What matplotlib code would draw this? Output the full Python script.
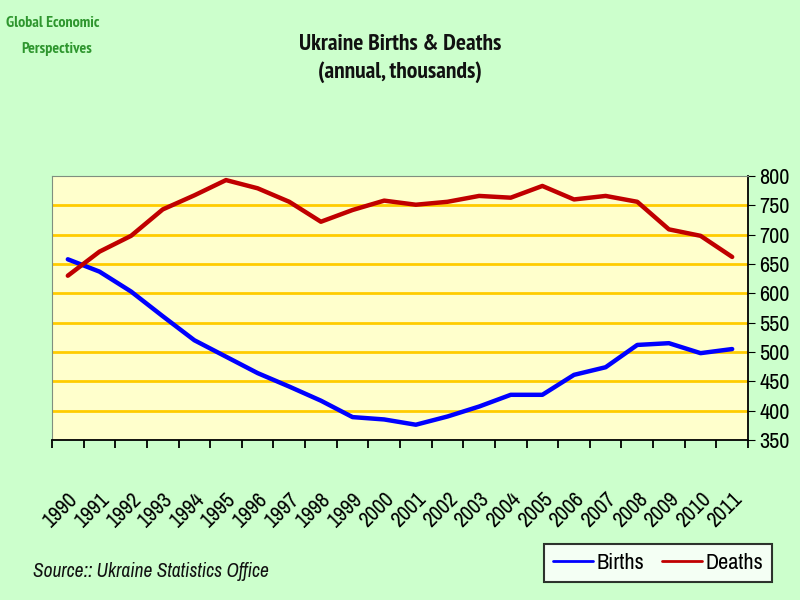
import numpy as np
import matplotlib.pyplot as plt

# Data (thousands per year)
years = [str(y) for y in range(1990, 2012)]
births = [658, 637, 603, 561, 520, 492, 464, 441, 417, 389, 385,
          376, 390, 407, 427, 427, 461, 474, 512, 515, 498, 505]
deaths = [630, 671, 698, 743, 767, 793, 779, 756, 722, 742, 758,
          751, 756, 766, 763, 783, 760, 766, 756, 709, 698, 662]
yticks = list(range(350, 801, 50))

plt.rcParams['font.family'] = ['Archivo Narrow', 'Liberation Sans', 'DejaVu Sans']
bold_narrow = ['PT Sans Narrow', 'Archivo Narrow', 'DejaVu Sans']

fig = plt.figure(figsize=(8, 6), dpi=100, facecolor='#CCFFCC')
ax = fig.add_axes([0.065, 0.2667, 0.87, 0.44], facecolor='#FFFFCC')

x = np.arange(len(years))
ax.plot(x, births, color='#0000FF', lw=3.2, label='Births', solid_capstyle='round')
ax.plot(x, deaths, color='#C00000', lw=3.2, label='Deaths', solid_capstyle='round')

ax.set_xlim(-0.5, len(years) - 0.5)
ax.set_ylim(350, 800)
ax.set_yticks(yticks)
ax.yaxis.tick_right()
ax.tick_params(axis='y', direction='out', length=5, labelsize=16, pad=3)
for v in yticks[1:-1]:
    ax.axhline(v, color='#FFCC00', lw=2, zorder=0)

ax.set_xticks(x)
ax.set_xticklabels(years, rotation=45, ha='right', va='top', rotation_mode='anchor', fontsize=15.5)
ax.set_xticks(np.arange(-0.5, len(years)), minor=True)
ax.tick_params(axis='x', which='major', length=0, pad=35)
ax.tick_params(axis='x', which='minor', length=6, width=1.3, direction='out')

for side in ['top', 'left']:
    ax.spines[side].set_color('#7F8F7F')
for side in ['bottom', 'right']:
    ax.spines[side].set_color('black')
    ax.spines[side].set_linewidth(1.3)

fig.text(0.5, 0.925, 'Ukraine Births & Deaths', ha='center', va='center',
         fontsize=17, fontweight='bold', color='#111111', family=bold_narrow)
fig.text(0.5, 0.88, '(annual, thousands)', ha='center', va='center',
         fontsize=17, fontweight='bold', color='#111111', family=bold_narrow)

fig.text(0.007, 0.962, 'Global Economic', ha='left', va='center',
         fontsize=11.5, fontweight='bold', color='#2E962E', family=bold_narrow)
fig.text(0.026, 0.918, 'Perspectives', ha='left', va='center',
         fontsize=11.5, fontweight='bold', color='#2E962E', family=bold_narrow)

fig.text(0.041, 0.047, 'Source:: Ukraine Statistics Office', ha='left', va='center',
         fontsize=14, style='italic', color='#111111')

leg = fig.legend(loc='center', bbox_to_anchor=(0.8225, 0.0617), ncol=2, fontsize=16,
                 frameon=True, fancybox=False, handlelength=1.8, handletextpad=0.15,
                 columnspacing=0.8, borderpad=0.4, borderaxespad=0)
leg.get_frame().set_edgecolor('black')
leg.get_frame().set_linewidth(1.5)
for line in leg.get_lines():
    line.set_linewidth(2)

fig.savefig('out.png', dpi=100, facecolor=fig.get_facecolor())
